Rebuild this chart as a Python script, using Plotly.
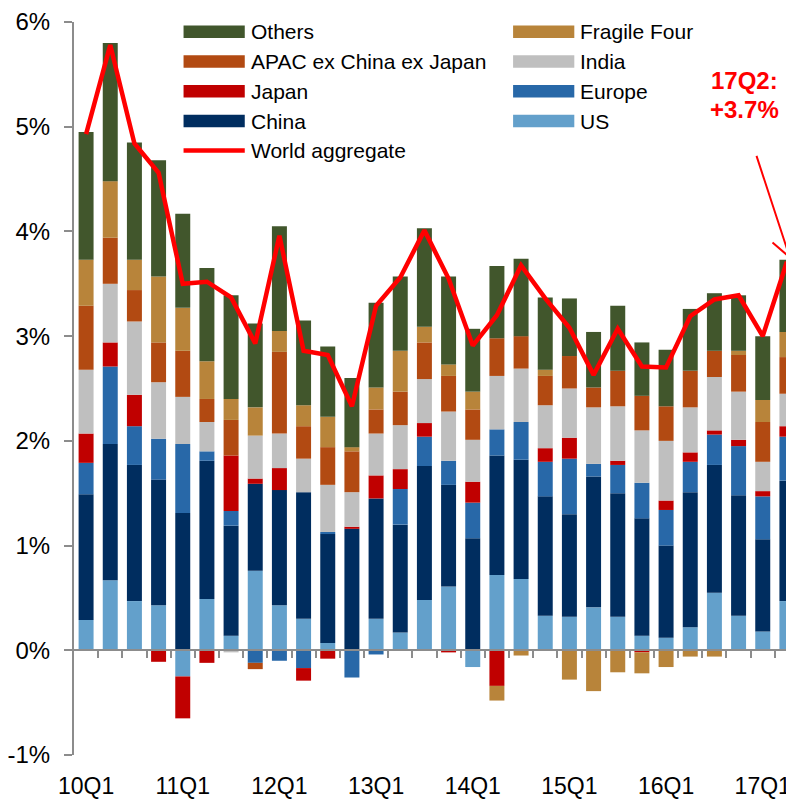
import plotly.graph_objects as go

# ---------------- data (percent contributions) ----------------
quarters = ["10Q1", "10Q2", "10Q3", "10Q4", "11Q1", "11Q2", "11Q3", "11Q4",
            "12Q1", "12Q2", "12Q3", "12Q4", "13Q1", "13Q2", "13Q3", "13Q4",
            "14Q1", "14Q2", "14Q3", "14Q4", "15Q1", "15Q2", "15Q3", "15Q4",
            "16Q1", "16Q2", "16Q3", "16Q4", "17Q1", "17Q2"]

us = [0.29, 0.67, 0.47, 0.43, -0.25, 0.49, 0.14, 0.76, 0.43, 0.30, 0.07, 0.00,
      0.30, 0.17, 0.48, 0.61, -0.16, 0.72, 0.68, 0.33, 0.32, 0.41, 0.32, 0.14,
      0.12, 0.22, 0.55, 0.33, 0.18, 0.47]
china = [1.20, 1.30, 1.30, 1.20, 1.31, 1.32, 1.05, 0.83, 1.10, 1.21, 1.04, 1.16,
         1.15, 1.03, 1.28, 0.97, 1.07, 1.14, 1.14, 1.14, 0.98, 1.25, 1.18, 1.12,
         0.88, 1.29, 1.22, 1.15, 0.88, 1.15]
europe = [0.30, 0.74, 0.37, 0.39, 0.66, 0.09, 0.14, -0.12, -0.10, -0.17, 0.02, -0.26,
          -0.04, 0.34, 0.28, 0.23, 0.34, 0.25, 0.36, 0.33, 0.53, 0.12, 0.27, 0.34,
          0.34, 0.29, 0.29, 0.47, 0.41, 0.42]
japan = [0.28, 0.23, 0.30, -0.11, -0.40, -0.12, 0.53, 0.05, 0.21, -0.12, -0.08, 0.02,
         0.22, 0.19, 0.13, -0.02, 0.20, -0.34, 0.00, 0.13, 0.20, 0.00, 0.04, -0.02,
         0.09, 0.09, 0.04, 0.06, 0.05, 0.10]
india = [0.61, 0.56, 0.70, 0.54, 0.45, 0.28, -0.02, 0.41, 0.33, 0.32, 0.45, 0.33,
         0.40, 0.42, 0.42, 0.47, 0.40, 0.51, 0.51, 0.41, 0.47, 0.54, 0.52, 0.50,
         0.57, 0.43, 0.51, 0.46, 0.28, 0.31]
apac = [0.61, 0.44, 0.30, 0.38, 0.44, 0.22, 0.34, -0.06, 0.78, 0.31, 0.36, 0.39,
        0.23, 0.32, 0.35, 0.34, 0.29, 0.36, 0.31, 0.28, 0.31, 0.19, 0.34, 0.33,
        0.33, 0.35, 0.25, 0.35, 0.38, 0.35]
fragile = [0.44, 0.54, 0.29, 0.63, 0.41, 0.36, 0.20, 0.27, 0.20, 0.20, 0.29, 0.04,
           0.21, 0.39, 0.15, 0.11, 0.17, -0.14, -0.05, 0.06, -0.28, -0.39, -0.21, -0.20,
           -0.16, -0.06, -0.06, 0.04, 0.21, 0.24]
others = [1.22, 1.32, 1.12, 1.11, 0.90, 0.89, 0.99, 0.80, 1.00, 0.81, 0.67, 0.66,
          0.81, 0.71, 0.94, 0.84, 0.60, 0.69, 0.74, 0.69, 0.55, 0.53, 0.62, 0.51,
          0.54, 0.59, 0.55, 0.53, 0.61, 0.69]
world = [4.93, 5.78, 4.84, 4.56, 3.50, 3.52, 3.37, 2.93, 3.96, 2.86, 2.82, 2.33,
         3.29, 3.56, 4.01, 3.55, 2.91, 3.20, 3.675, 3.36, 3.08, 2.63, 3.07, 2.71,
         2.70, 3.19, 3.35, 3.39, 3.00, 3.71]

xtick_labels = ["10Q1", "11Q1", "12Q1", "13Q1", "14Q1", "15Q1", "16Q1", "17Q1"]
ytick_vals = [-1, 0, 1, 2, 3, 4, 5, 6]
ytick_text = ["-1%", "0%", "1%", "2%", "3%", "4%", "5%", "6%"]

series = [  # stacking order bottom -> top
    ("US", us, "#63A0CB"),
    ("China", china, "#002D5F"),
    ("Europe", europe, "#2868A8"),
    ("Japan", japan, "#C00000"),
    ("India", india, "#BFBFBF"),
    ("APAC ex China ex Japan", apac, "#B24A12"),
    ("Fragile Four", fragile, "#B8843A"),
    ("Others", others, "#41562C"),
]

# ---------------- layout geometry ----------------
OFF = 8                      # page body margin of the browser
W, H = 794 - OFF, 799 - OFF  # figure size so that it ends at the window edge
ML, MR, MT, MB = 73 - OFF, 0, 20 - OFF, 41
STEP = 24.2  # px per quarter
xpos = list(range(len(quarters)))
xrange_ = [-0.5, -0.5 + (W - ML - MR) / STEP]
FONT = "Liberation Sans, Arial, sans-serif"
GRAY = "#8c8c8c"


def px_x(px):  # window pixel -> paper fraction
    return (px - OFF - ML) / (W - ML - MR)


def px_y(py):
    return (H - MB - (py - OFF)) / (H - MT - MB)


fig = go.Figure()
for name, vals, col in series:
    fig.add_trace(go.Bar(x=xpos, y=vals, name=name, width=0.62,
                         marker=dict(color=col, line=dict(width=0)),
                         showlegend=False))

fig.add_trace(go.Scatter(x=xpos, y=world, name="World aggregate", mode="lines",
                         xaxis="x2", yaxis="y",
                         line=dict(color="#FF0000", width=4.5),
                         showlegend=False))

fig.update_layout(
    width=W, height=H,
    margin=dict(l=ML, r=MR, t=MT, b=MB),
    paper_bgcolor="white", plot_bgcolor="white",
    barmode="relative",
    font=dict(family=FONT, color="#000000"),
    xaxis=dict(range=xrange_, tickvals=xpos[::4], ticktext=xtick_labels,
               ticks="", showline=False, showgrid=False, zeroline=False,
               ticklabelstandoff=15, ticklabeloverflow="allow",
               tickfont=dict(size=23, family=FONT, color="#000")),
    xaxis2=dict(range=xrange_, overlaying="x", anchor="free",
                position=(0 - ytick_vals[0]) / (ytick_vals[-1] - ytick_vals[0]),
                tickvals=[i + 0.5 for i in xpos[:-1]], ticks="outside",
                ticklen=7, tickwidth=2, tickcolor=GRAY,
                showline=True, linecolor=GRAY, linewidth=2,
                showticklabels=False, showgrid=False, zeroline=False),
    yaxis=dict(range=[ytick_vals[0] - 1e-6, ytick_vals[-1] + 1e-6], tickvals=ytick_vals,
               ticktext=ytick_text, ticks="outside", ticklen=8, tickwidth=2,
               tickcolor=GRAY, showline=True, linecolor=GRAY, linewidth=2,
               showgrid=False, zeroline=False, ticklabelstandoff=9,
               ticklabeloverflow="allow",
               tickfont=dict(size=24, family=FONT, color="#000")),
)

# ---------------- manual legend (two columns, wide swatches) ----------------
legend_rows = [
    # (label, colour, kind, swatch x0, row centre y) in window pixels
    ("Others", "#41562C", "box", 182.7, 29.7),
    ("APAC ex China ex Japan", "#B24A12", "box", 182.7, 59.7),
    ("Japan", "#C00000", "box", 182.7, 89.7),
    ("China", "#002D5F", "box", 182.7, 119.7),
    ("World aggregate", "#FF0000", "line", 182.7, 149.3),
    ("Fragile Four", "#B8843A", "box", 512.7, 29.7),
    ("India", "#BFBFBF", "box", 512.7, 59.7),
    ("Europe", "#2868A8", "box", 512.7, 89.7),
    ("US", "#63A0CB", "box", 512.7, 119.7),
]
SW = 61.3
for label, col, kind, sx, cy in legend_rows:
    if kind == "box":
        fig.add_shape(type="rect", xref="paper", yref="paper",
                      x0=px_x(sx), x1=px_x(sx + SW), y0=px_y(cy + 6.3), y1=px_y(cy - 6.3),
                      fillcolor=col, line=dict(width=0), layer="above")
    else:
        fig.add_shape(type="line", xref="paper", yref="paper",
                      x0=px_x(sx), x1=px_x(sx + SW), y0=px_y(cy), y1=px_y(cy),
                      line=dict(color=col, width=4.5), layer="above")
    fig.add_annotation(text=label, xref="paper", yref="paper",
                       x=px_x(sx + SW + 4), y=px_y(cy), xanchor="left", yanchor="middle",
                       showarrow=False, font=dict(size=21, family=FONT, color="#000"))

# ---------------- callout ----------------
fig.add_annotation(text="<b>17Q2:</b>", xref="paper", yref="paper",
                   x=px_x(744), y=px_y(79), xanchor="center", yanchor="middle",
                   showarrow=False, font=dict(size=24, family=FONT, color="#FF0000"))
fig.add_annotation(text="<b>+3.7%</b>", xref="paper", yref="paper",
                   x=px_x(744), y=px_y(108), xanchor="center", yanchor="middle",
                   showarrow=False, font=dict(size=24, family=FONT, color="#FF0000"))

last = len(quarters) - 1
fig.add_shape(type="path", xref="x", yref="y", xsizemode="pixel", ysizemode="pixel",
              xanchor=last, yanchor=world[last],
              path="M -30.4 105.9 L 2.9 4.3 M -14.4 19.3 L 2.9 4.3 L 7.2 25.9",
              line=dict(color="#FF0000", width=2), layer="above")

fig.write_html("out.html")
